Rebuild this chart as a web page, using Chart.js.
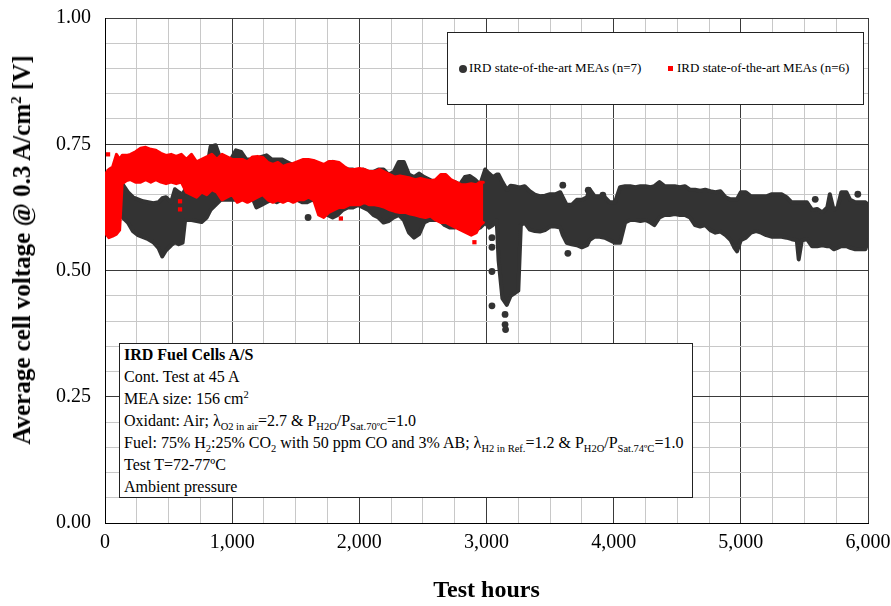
<!DOCTYPE html>
<html><head><meta charset="utf-8">
<script src="https://cdn.jsdelivr.net/npm/chart.js@4.4.1/dist/chart.umd.min.js"></script>
<style>
html,body{margin:0;padding:0;background:#fff;}
#wrap{position:relative;width:891px;height:606px;overflow:hidden;}
#c{position:absolute;left:0;top:0;}
.serif,.serif *{font-family:'Liberation Serif','Times New Roman',serif;color:#000;}
#legend{position:absolute;left:447px;top:32px;width:417px;height:73px;box-sizing:border-box;border:1px solid #222;background:#fff;font-size:13px;}
#legend .item{position:absolute;top:27px;white-space:nowrap;line-height:16px;font-size:13px;}
#legend .dot{display:inline-block;width:8px;height:8px;border-radius:50%;background:#333;vertical-align:-1px;margin-right:2px;}
#legend .sq{display:inline-block;width:5px;height:5px;background:#f00;vertical-align:1px;margin-right:4px;}
#note{position:absolute;left:119px;top:343px;width:574px;height:155px;box-sizing:border-box;border:1px solid #222;background:#fff;font-size:16px;padding:0 0 0 4px;}
#note div{height:22px;line-height:22px;white-space:nowrap;}
#note sub,#note sup{font-size:10.5px;line-height:0;}
#ytitle{position:absolute;left:22px;top:250px;transform:translate(-50%,-50%) rotate(-90deg);white-space:nowrap;font-weight:bold;font-size:25px;}
#ytitle sup{font-size:15px;line-height:0;}
</style>
</head><body>
<div id="wrap">
<canvas id="c" width="891" height="606"></canvas>
<div id="ytitle" class="serif">Average cell voltage @ 0.3 A/cm<sup>2</sup> [V]</div>
<div id="legend" class="serif">
  <span class="item" style="left:11px;"><span class="dot"></span>IRD state-of-the-art MEAs (n=7)</span>
  <span class="item" style="left:220px;"><span class="sq"></span>IRD state-of-the-art MEAs (n=6)</span>
</div>
<div id="note" class="serif">
  <div><b>IRD Fuel Cells A/S</b></div>
  <div>Cont. Test at 45 A</div>
  <div>MEA size: 156 cm<sup>2</sup></div>
  <div>Oxidant: Air; λ<sub>O2 in air</sub>=2.7 &amp; P<sub>H2O</sub>/P<sub>Sat.70ºC</sub>=1.0</div>
  <div>Fuel: 75% H<sub>2</sub>:25% CO<sub>2</sub> with 50 ppm CO and 3% AB; λ<sub>H2 in Ref.</sub>=1.2 &amp; P<sub>H2O</sub>/P<sub>Sat.74ºC</sub>=1.0</div>
  <div>Test T=72-77ºC</div>
  <div>Ambient pressure</div>
</div>
</div>
<script>
// ---- Data (test hours, voltage band low/high) ----
const blackHours = [100,140,180,220,260,300,340,380,420,450,480,520,550,580,610,630,680,720,760,800,830,870,910,950,990,1030,1070,1110,1150,1190,1230,1270,1310,1350,1390,1430,1470,1510,1550,1590,1630,1670,1710,1750,1790,1830,1870,1910,1950,1990,2030,2070,2110,2150,2190,2230,2270,2310,2350,2390,2430,2470,2510,2550,2590,2630,2670,2710,2750,2790,2830,2870,2910,2950,2990,3020,3050,3080,3095,3125,3160,3190,3220,3250,3270,3300,3340,3380,3420,3460,3500,3540,3580,3600,3630,3670,3710,3750,3790,3810,3850,3890,3930,3970,4010,4050,4090,4130,4170,4210,4250,4290,4320,4360,4400,4440,4480,4520,4560,4600,4640,4680,4720,4760,4800,4840,4880,4920,4950,4970,5000,5040,5080,5120,5160,5200,5240,5280,5320,5360,5400,5440,5455,5480,5520,5560,5600,5640,5680,5700,5730,5760,5790,5830,5860,5900,5940,5980,6000];
const blackLow = [0.620,0.605,0.595,0.578,0.570,0.566,0.562,0.556,0.545,0.528,0.540,0.550,0.556,0.552,0.555,0.600,0.600,0.598,0.596,0.605,0.620,0.630,0.640,0.640,0.640,0.640,0.645,0.645,0.650,0.625,0.630,0.635,0.640,0.635,0.640,0.640,0.640,0.640,0.635,0.635,0.640,0.635,0.620,0.610,0.605,0.610,0.620,0.625,0.625,0.630,0.625,0.620,0.610,0.605,0.595,0.598,0.605,0.610,0.600,0.575,0.565,0.572,0.595,0.600,0.600,0.600,0.590,0.585,0.585,0.590,0.590,0.585,0.580,0.585,0.595,0.585,0.590,0.600,0.520,0.445,0.432,0.450,0.455,0.460,0.590,0.595,0.581,0.578,0.577,0.580,0.587,0.587,0.585,0.570,0.555,0.552,0.550,0.546,0.550,0.560,0.567,0.567,0.565,0.560,0.555,0.555,0.595,0.600,0.600,0.598,0.600,0.595,0.590,0.605,0.610,0.610,0.612,0.610,0.610,0.605,0.590,0.587,0.590,0.580,0.575,0.577,0.570,0.560,0.545,0.538,0.560,0.565,0.575,0.578,0.575,0.570,0.567,0.567,0.567,0.565,0.562,0.560,0.522,0.560,0.562,0.548,0.548,0.550,0.548,0.548,0.542,0.545,0.548,0.548,0.545,0.542,0.542,0.542,0.560];
const blackHigh = [0.672,0.670,0.655,0.645,0.641,0.637,0.635,0.633,0.635,0.643,0.645,0.635,0.661,0.655,0.650,0.660,0.670,0.680,0.690,0.700,0.745,0.748,0.720,0.710,0.720,0.738,0.735,0.720,0.720,0.720,0.725,0.728,0.720,0.720,0.720,0.715,0.710,0.710,0.710,0.705,0.705,0.700,0.705,0.710,0.715,0.700,0.695,0.700,0.700,0.690,0.700,0.695,0.695,0.700,0.700,0.690,0.695,0.715,0.715,0.690,0.685,0.692,0.685,0.680,0.675,0.680,0.675,0.670,0.675,0.670,0.685,0.687,0.680,0.670,0.700,0.692,0.685,0.690,0.690,0.675,0.660,0.668,0.667,0.665,0.665,0.667,0.657,0.650,0.647,0.648,0.651,0.651,0.655,0.645,0.630,0.630,0.640,0.640,0.645,0.661,0.647,0.647,0.645,0.635,0.635,0.665,0.667,0.667,0.665,0.667,0.667,0.665,0.667,0.675,0.667,0.667,0.667,0.665,0.667,0.660,0.660,0.658,0.660,0.657,0.655,0.657,0.645,0.641,0.641,0.641,0.655,0.655,0.647,0.647,0.647,0.647,0.651,0.651,0.651,0.645,0.635,0.635,0.635,0.635,0.635,0.620,0.622,0.615,0.625,0.651,0.620,0.625,0.655,0.655,0.640,0.635,0.635,0.635,0.630];
const blackOutHours = [1597,3043,3043,3043,3043,3146,3146,3150,3600,3640,3640,3800,3915,5585,5920];
const blackOutVolts = [0.605,0.565,0.546,0.498,0.430,0.413,0.393,0.383,0.669,0.562,0.534,0.659,0.649,0.641,0.651];

const redHours = [0,30,60,90,115,135,170,200,240,280,320,360,400,440,480,520,560,600,640,680,720,760,800,840,880,920,960,1000,1040,1080,1120,1160,1200,1240,1280,1320,1360,1400,1440,1480,1520,1560,1600,1640,1680,1720,1760,1800,1840,1880,1920,1960,2000,2040,2080,2120,2160,2200,2240,2280,2320,2360,2400,2440,2480,2520,2560,2600,2640,2680,2720,2760,2800,2840,2880,2920,2950,2975];
const redLow = [0.575,0.565,0.568,0.572,0.580,0.672,0.678,0.680,0.675,0.675,0.680,0.675,0.680,0.675,0.672,0.675,0.672,0.675,0.655,0.650,0.645,0.655,0.650,0.660,0.655,0.640,0.645,0.650,0.635,0.640,0.635,0.640,0.645,0.650,0.640,0.635,0.640,0.635,0.640,0.635,0.640,0.640,0.645,0.640,0.610,0.605,0.615,0.620,0.625,0.625,0.630,0.630,0.630,0.635,0.630,0.630,0.628,0.625,0.620,0.617,0.615,0.615,0.612,0.610,0.607,0.605,0.608,0.600,0.595,0.595,0.590,0.585,0.580,0.575,0.570,0.575,0.590,0.595];
const redHigh = [0.690,0.700,0.705,0.730,0.720,0.728,0.728,0.730,0.735,0.742,0.744,0.740,0.738,0.732,0.728,0.730,0.726,0.730,0.720,0.730,0.715,0.720,0.725,0.730,0.720,0.730,0.725,0.720,0.720,0.720,0.715,0.725,0.726,0.724,0.714,0.710,0.714,0.706,0.710,0.712,0.716,0.720,0.720,0.718,0.714,0.710,0.716,0.716,0.714,0.706,0.700,0.700,0.702,0.700,0.696,0.696,0.700,0.695,0.690,0.685,0.687,0.685,0.683,0.680,0.682,0.680,0.678,0.680,0.690,0.690,0.680,0.675,0.670,0.670,0.672,0.670,0.675,0.675];
const redOutHours = [24,590,590,1855,2905];
const redOutVolts = [0.730,0.637,0.621,0.603,0.556];

const xMajorTicks = [0,1000,2000,3000,4000,5000,6000];
const yMajorTicks = [0,0.25,0.5,0.75,1.0];

// ---- Chart ----
const FONT = "'Liberation Serif','Times New Roman',serif";
const pts = (xs, ys) => xs.map((x, i) => ({x: x, y: ys[i]}));
const isMajor = (list, v) => list.some(m => Math.abs(m - v) < 1e-6);
const BLACK = '#333333', RED = '#ff0000';
const bandStyle = {borderWidth: 4, pointRadius: 0, tension: 0, borderJoinStyle: 'round', borderCapStyle: 'round'};

new Chart(document.getElementById('c'), {
  type: 'line',
  data: {
    datasets: [
      Object.assign({label: 'n7low', data: pts(blackHours, blackLow), borderColor: BLACK, fill: false, order: 1}, bandStyle),
      Object.assign({label: 'n7high', data: pts(blackHours, blackHigh), borderColor: BLACK, fill: '-1', backgroundColor: BLACK, order: 1}, bandStyle),
      {type: 'scatter', label: 'IRD state-of-the-art MEAs (n=7)', data: pts(blackOutHours, blackOutVolts), backgroundColor: BLACK, borderColor: BLACK, borderWidth: 0, pointRadius: 3.4, pointStyle: 'circle', showLine: false, order: 1},
      Object.assign({label: 'n6low', data: pts(redHours, redLow), borderColor: RED, fill: false, order: 0}, bandStyle, {borderWidth: 3}),
      Object.assign({label: 'n6high', data: pts(redHours, redHigh), borderColor: RED, fill: '-1', backgroundColor: RED, order: 0}, bandStyle, {borderWidth: 3}),
      {type: 'scatter', label: 'IRD state-of-the-art MEAs (n=6)', data: pts(redOutHours, redOutVolts), backgroundColor: RED, borderColor: RED, borderWidth: 0, pointRadius: 3, pointStyle: 'rect', showLine: false, order: 0}
    ]
  },
  options: {
    responsive: false,
    animation: false,
    events: [],
    layout: {padding: {left: 0, right: 23, top: 18, bottom: 0}},
    plugins: {legend: {display: false}, tooltip: {enabled: false}},
    scales: {
      x: {
        type: 'linear', min: 0, max: 6000,
        border: {display: true, color: '#000', width: 1},
        grid: {drawTicks: false, lineWidth: 1, color: c => isMajor(xMajorTicks, c.tick.value) ? '#3a3a3a' : '#c8c8c8'},
        ticks: {stepSize: 250, autoSkip: false, maxRotation: 0, maxTicksLimit: 100, padding: 8, color: '#000',
          font: {family: FONT, size: 20},
          callback: v => isMajor(xMajorTicks, v) ? v.toLocaleString('en-US') : ''},
        title: {display: true, text: 'Test hours', color: '#000', font: {family: FONT, size: 24, weight: 'bold'}, padding: {top: 0, bottom: 1}},
        afterFit: s => { s.height = 83; s.paddingLeft = 0; s.paddingRight = 0; }
      },
      y: {
        type: 'linear', min: 0, max: 1,
        border: {display: true, color: '#000', width: 1},
        grid: {drawTicks: false, lineWidth: 1, color: c => isMajor(yMajorTicks, c.tick.value) ? '#3a3a3a' : '#c8c8c8'},
        ticks: {stepSize: 0.05, autoSkip: false, maxTicksLimit: 100, padding: 14, color: '#000',
          font: {family: FONT, size: 20},
          callback: v => isMajor(yMajorTicks, v) ? v.toFixed(2) : ''},
        afterFit: s => { s.width = 105; s.paddingTop = 0; s.paddingBottom = 0; }
      }
    }
  }
});
</script>
</body></html>
